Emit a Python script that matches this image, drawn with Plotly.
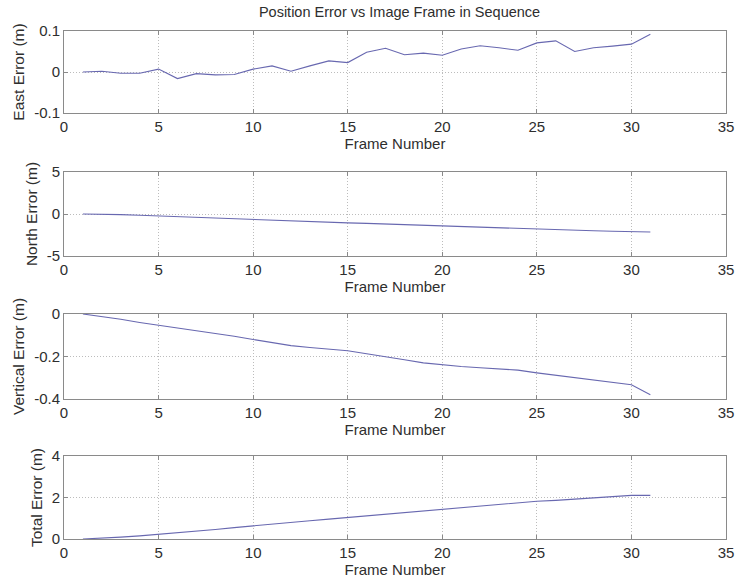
import plotly.graph_objects as go

frames = list(range(1, 32))
east_error = [0.0, 0.002, -0.003, -0.003, 0.007, -0.016, -0.004, -0.007, -0.006, 0.007,
              0.015, 0.002, 0.015, 0.027, 0.023, 0.048, 0.058, 0.042, 0.046, 0.041,
              0.056, 0.064, 0.059, 0.053, 0.071, 0.076, 0.050, 0.059, 0.063, 0.068, 0.092]
north_error = [0.0, -0.02, -0.08, -0.15, -0.24, -0.32, -0.40, -0.48, -0.57, -0.66,
               -0.74, -0.82, -0.90, -0.98, -1.06, -1.12, -1.20, -1.28, -1.36, -1.44,
               -1.52, -1.60, -1.68, -1.76, -1.84, -1.89, -1.95, -2.00, -2.06, -2.12, -2.14]
vertical_error = [0.0, -0.012, -0.025, -0.04, -0.053, -0.065, -0.078, -0.09, -0.105, -0.12,
                  -0.135, -0.149, -0.158, -0.165, -0.173, -0.187, -0.20, -0.215, -0.23, -0.24,
                  -0.247, -0.253, -0.258, -0.264, -0.277, -0.288, -0.30, -0.312, -0.323, -0.333, -0.38]
total_error = [0.0, 0.03, 0.09, 0.15, 0.22, 0.30, 0.38, 0.46, 0.55, 0.64,
               0.72, 0.80, 0.88, 0.96, 1.04, 1.10, 1.18, 1.26, 1.34, 1.42,
               1.50, 1.58, 1.66, 1.74, 1.82, 1.86, 1.92, 1.97, 2.03, 2.10, 2.10]

y_titles = ["East Error (m)", "North Error (m)", "Vertical Error (m)", "Total Error (m)"]
y_ranges = [[-0.1, 0.1], [-5, 5], [-0.4, 0], [0, 4]]
y_ticks = [[-0.1, 0, 0.1], [-5, 0, 5], [-0.4, -0.2, 0], [0, 2, 4]]
y_ticktext = [["-0.1", "0", "0.1"], ["-5", "0", "5"], ["-0.4", "-0.2", "0"], ["0", "2", "4"]]
x_ticks = [0, 5, 10, 15, 20, 25, 30, 35]
series = [east_error, north_error, vertical_error, total_error]

H = 586
top_px, bot_px = 31, 539
span = bot_px - top_px
plot_px = [(31, 113), (172, 256), (314, 399), (456, 539)]

font_family = "Liberation Sans, Arial, sans-serif"
line_color = "#6868b0"
axis_color = "#8a8a8a"
grid_color = "#bcbcbc"
text_color = "#2e2e2e"

fig = go.Figure()
layout = dict(
    width=744, height=586,
    margin=dict(l=64, r=10, t=top_px, b=H - bot_px),
    paper_bgcolor="white", plot_bgcolor="white",
    showlegend=False,
    font=dict(family=font_family, size=14, color=text_color),
    title=dict(text="Position Error vs Image Frame in Sequence", x=0.537, xanchor="center",
               y=1 - 12 / H, yanchor="middle", font=dict(size=14.5, color=text_color)),
)

for i in range(4):
    xa = "x" if i == 0 else f"x{i+1}"
    ya = "y" if i == 0 else f"y{i+1}"
    fig.add_trace(go.Scatter(x=frames, y=series[i], mode="lines", xaxis=xa, yaxis=ya,
                             line=dict(color=line_color, width=1.1)))
    t, b = plot_px[i]
    dom = [(bot_px - b) / span, (bot_px - t) / span]
    xkey = "xaxis" if i == 0 else f"xaxis{i+1}"
    ykey = "yaxis" if i == 0 else f"yaxis{i+1}"
    layout[xkey] = dict(
        domain=[0, 1], anchor=ya, range=[0, 35], tickvals=x_ticks,
        showline=True, linecolor=axis_color, linewidth=1, mirror="ticks",
        ticks="inside", ticklen=4, tickcolor=axis_color,
        showgrid=True, gridcolor=grid_color, griddash="1px,2px", gridwidth=1,
        zeroline=False, tickfont=dict(size=15, color=text_color),
        title=dict(text="Frame Number", standoff=0, font=dict(size=15, color=text_color)),
    )
    layout[ykey] = dict(
        domain=dom, anchor=xa, range=y_ranges[i], tickvals=y_ticks[i], ticktext=y_ticktext[i],
        showline=True, linecolor=axis_color, linewidth=1, mirror="ticks",
        ticks="inside", ticklen=4, tickcolor=axis_color,
        showgrid=True, gridcolor=grid_color, griddash="1px,2px", gridwidth=1,
        zeroline=False, tickfont=dict(size=15, color=text_color),
        title=dict(text=y_titles[i], standoff=5, font=dict(size=15.5, color=text_color)),
    )

fig.update_layout(**layout)
fig.write_html("out.html")
